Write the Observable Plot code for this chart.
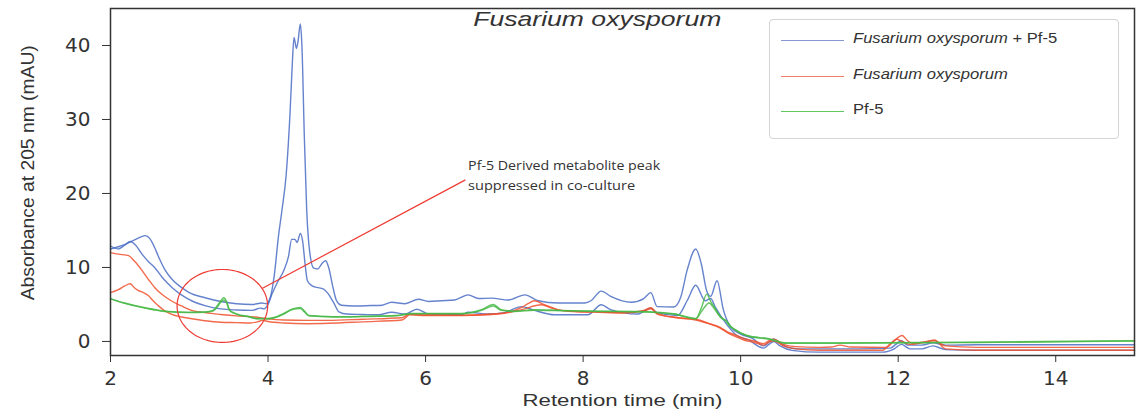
<!DOCTYPE html>
<html><head><meta charset="utf-8">
<script src="https://cdn.jsdelivr.net/npm/d3@7"></script>
<script src="https://cdn.jsdelivr.net/npm/@observablehq/plot@0.6"></script>
<style>
body{margin:0;background:#fff;}
#wrap{position:relative;width:1139px;height:417px;}
.legend{position:absolute;left:769px;top:19px;width:348px;height:118px;border:1px solid #d4d4d4;border-radius:4px;background:#fff;font-family:"Liberation Sans",Arial,sans-serif;color:#333;}
.legend .sw{position:absolute;left:11px;width:63px;height:0;border-top:1.5px solid;}
.legend .lb{position:absolute;left:83px;font-size:15.5px;line-height:1;transform:scaleX(1.07);transform-origin:left center;white-space:nowrap;}
</style></head><body><div id="wrap"></div>
<script>
// ---- series names, colours ----
const seriesNames = ["Fusarium oxysporum + Pf-5", "Fusarium oxysporum", "Pf-5"];
const seriesColors = ["#4a6cc4", "#f0502d", "#45b845"];
const legendColors = ["#8499d4", "#f07d68", "#62c862"];

// ---- traces: [retention time (min), absorbance (mAU)] ----
const coculture_rep1 = [[2.0,12.5],[2.1,12.8],[2.2,13.2],[2.3,13.7],[2.38,14.1],[2.44,14.3],[2.5,13.9],[2.56,12.7],[2.62,11.2],[2.69,9.7],[2.78,8.4],[2.9,7.3],[3.0,6.6],[3.2,5.9],[3.4,5.4],[3.6,5.1],[3.8,5.0],[3.92,5.2],[3.98,5.1],[4.03,6.0],[4.08,9.0],[4.13,14.0],[4.18,18.0],[4.23,22.5],[4.28,31],[4.31,38],[4.33,41.1],[4.36,39.6],[4.38,40.5],[4.41,42.9],[4.43,40],[4.46,28],[4.49,18],[4.53,12],[4.58,9.9],[4.63,9.8],[4.69,10.6],[4.73,10.9],[4.77,10.0],[4.82,7.5],[4.87,5.5],[4.93,4.9],[5.1,4.8],[5.3,4.85],[5.45,4.9],[5.57,5.3],[5.74,5.1],[5.91,5.7],[6.04,5.4],[6.2,5.5],[6.37,5.6],[6.54,6.3],[6.67,5.8],[6.84,5.85],[7.05,5.6],[7.26,6.3],[7.43,5.5],[7.68,5.2],[8.02,5.2],[8.1,5.5],[8.23,6.8],[8.35,6.1],[8.61,5.3],[8.77,5.8],[8.86,6.6],[8.94,4.7],[9.15,4.65],[9.24,6.0],[9.32,9.6],[9.43,12.5],[9.5,10.5],[9.57,6.8],[9.62,6.1],[9.7,8.2],[9.78,4.3],[9.87,2.0],[10.0,1.0],[10.15,0.4],[10.29,-0.6],[10.36,-0.1],[10.42,0.35],[10.5,-0.2],[10.6,-0.8],[10.75,-1.0],[11.0,-1.0],[11.5,-1.0],[11.9,-0.9],[11.97,-0.4],[12.04,0.1],[12.12,-0.5],[12.3,-0.5],[12.44,-0.2],[12.6,-0.5],[13.0,-0.45],[15.0,-0.45]];
const coculture_rep2 = [[2.0,12.9],[2.1,12.5],[2.18,13.0],[2.25,13.5],[2.32,13.0],[2.4,11.8],[2.48,10.8],[2.56,10.0],[2.66,8.6],[2.78,7.3],[2.9,6.3],[3.05,5.4],[3.2,4.85],[3.4,4.4],[3.6,4.25],[3.8,4.2],[3.9,4.5],[3.95,4.4],[4.0,5.0],[4.05,6.4],[4.12,8.0],[4.2,9.6],[4.26,11.5],[4.3,13.8],[4.34,13.8],[4.37,13.4],[4.41,14.6],[4.44,13.5],[4.47,10.5],[4.5,8.2],[4.56,7.5],[4.62,7.3],[4.7,7.1],[4.76,6.5],[4.83,5.3],[4.9,4.0],[5.0,3.7],[5.2,3.65],[5.4,3.6],[5.57,3.95],[5.74,3.7],[5.89,4.35],[6.04,3.7],[6.46,3.6],[6.54,3.95],[6.8,3.7],[7.0,3.9],[7.22,4.7],[7.38,4.2],[7.64,3.6],[8.06,3.6],[8.23,4.95],[8.35,4.3],[8.69,3.7],[8.86,4.5],[8.94,3.9],[9.2,3.5],[9.32,5.5],[9.43,7.6],[9.55,5.5],[9.62,5.8],[9.68,4.6],[9.83,2.2],[9.95,0.8],[10.1,0.2],[10.29,-0.9],[10.36,-0.4],[10.42,0.0],[10.5,-0.6],[10.65,-1.2],[11.0,-1.45],[11.8,-1.45],[11.95,-1.0],[12.04,-0.4],[12.15,-1.0],[12.3,-1.0],[12.44,-0.6],[12.6,-1.1],[13.0,-1.2],[15.0,-1.2]];
const fusarium_rep1 = [[2.0,12.0],[2.1,11.8],[2.23,11.6],[2.3,10.9],[2.4,9.6],[2.48,8.4],[2.56,7.3],[2.66,6.3],[2.77,5.5],[2.9,4.8],[3.03,4.2],[3.2,3.9],[3.4,3.65],[3.6,3.45],[3.83,3.3],[4.0,3.05],[4.2,2.9],[4.5,2.85],[4.77,2.85],[5.2,3.0],[5.7,3.2],[5.8,3.7],[6.0,3.6],[6.46,3.55],[6.8,3.7],[7.0,3.85],[7.22,4.6],[7.3,5.1],[7.38,5.5],[7.5,5.0],[7.6,4.6],[7.72,4.2],[7.93,4.05],[8.14,4.0],[8.5,3.9],[8.77,4.2],[8.86,4.55],[8.94,3.8],[9.2,3.2],[9.43,2.9],[9.6,2.4],[9.74,1.9],[9.83,1.3],[9.95,0.8],[10.04,0.4],[10.16,0.1],[10.29,-0.3],[10.36,0.1],[10.42,0.3],[10.54,-0.4],[10.7,-0.7],[11.0,-0.8],[11.15,-0.75],[11.26,-0.5],[11.4,-0.75],[11.85,-0.8],[11.95,0.1],[12.05,0.8],[12.12,0.1],[12.2,-0.3],[12.3,-0.1],[12.46,0.1],[12.6,-0.6],[13.0,-0.8],[15.0,-0.8]];
const fusarium_rep2 = [[2.0,6.6],[2.1,7.0],[2.18,7.5],[2.25,7.8],[2.3,7.3],[2.35,6.9],[2.42,6.6],[2.48,6.2],[2.54,5.5],[2.6,4.9],[2.68,4.2],[2.77,3.7],[2.9,3.3],[3.03,3.07],[3.2,2.8],[3.4,2.6],[3.6,2.55],[3.78,2.5],[3.88,2.7],[3.93,2.85],[4.0,2.7],[4.2,2.5],[4.5,2.4],[4.77,2.45],[5.2,2.65],[5.7,2.9],[5.8,3.6],[6.0,3.5],[6.46,3.5],[6.8,3.6],[7.0,3.8],[7.22,4.3],[7.47,4.95],[7.6,4.5],[7.72,4.2],[7.93,4.0],[8.14,3.96],[8.5,3.85],[8.77,4.1],[8.86,4.4],[8.94,3.7],[9.2,3.2],[9.43,3.0],[9.6,2.4],[9.74,1.8],[9.83,1.2],[9.95,0.6],[10.04,0.2],[10.16,-0.1],[10.29,-0.5],[10.36,-0.1],[10.42,0.1],[10.54,-0.6],[10.7,-1.0],[11.0,-1.2],[11.8,-1.2],[11.9,-0.3],[11.98,0.3],[12.05,0.0],[12.15,-0.4],[12.3,-0.2],[12.46,0.2],[12.6,-1.0],[13.0,-1.2],[15.0,-1.2]];
const pf5_rep1 = [[2.0,5.8],[2.18,5.2],[2.44,4.55],[2.69,4.1],[2.98,3.95],[3.2,4.0],[3.3,4.2],[3.36,4.9],[3.4,5.5],[3.44,5.9],[3.47,5.5],[3.51,4.3],[3.56,3.9],[3.62,3.65],[3.74,3.4],[3.87,3.1],[4.0,3.1],[4.1,3.3],[4.2,3.8],[4.31,4.4],[4.41,4.6],[4.47,4.0],[4.52,3.5],[4.82,3.35],[5.2,3.4],[5.62,3.5],[5.83,3.8],[6.46,3.8],[6.71,4.3],[6.86,5.0],[6.96,4.3],[7.13,4.1],[7.38,4.3],[7.72,4.2],[8.2,4.1],[8.69,4.05],[9.15,3.75],[9.43,3.1],[9.5,4.5],[9.57,6.4],[9.62,5.4],[9.68,4.4],[9.75,3.2],[9.8,2.9],[9.86,2.1],[9.91,1.7],[10.08,0.8],[10.37,0.35],[10.58,-0.2],[11.2,-0.2],[13.0,-0.1],[15.0,0.1]];
const pf5_rep2 = [[2.0,5.75],[2.18,5.15],[2.44,4.5],[2.69,4.05],[2.98,3.9],[3.2,3.95],[3.3,4.1],[3.36,4.7],[3.4,5.3],[3.44,5.6],[3.47,5.3],[3.51,4.2],[3.56,3.85],[3.62,3.6],[3.74,3.35],[3.87,3.05],[4.0,3.05],[4.1,3.25],[4.2,3.7],[4.31,4.3],[4.41,4.45],[4.47,3.9],[4.52,3.45],[4.82,3.3],[5.2,3.35],[5.62,3.45],[5.83,3.75],[6.46,3.75],[6.71,4.2],[6.86,4.8],[6.96,4.2],[7.13,4.05],[7.38,4.2],[7.72,4.15],[8.2,4.05],[8.69,4.0],[9.15,3.7],[9.43,3.05],[9.5,4.0],[9.6,5.2],[9.66,4.5],[9.72,3.6],[9.78,3.0],[9.82,2.8],[9.88,2.0],[9.93,1.6],[10.1,0.7],[10.37,0.3],[10.58,-0.25],[11.2,-0.25],[13.0,-0.15],[15.0,0.05]];

// ---- axes ----
const xTicks = [2, 4, 6, 8, 10, 12, 14];
const yTicks = [0, 10, 20, 30, 40];
const titleText = "Fusarium oxysporum";
const xLabel = "Retention time (min)";
const yLabel = "Absorbance at 205 nm (mAU)";

// ---- annotation ----
const annotationLines = ["Pf-5 Derived metabolite peak", "suppressed in co-culture"];
const annotationAt = {t: 6.54, v: 22.4};
const circleAt = {t: 3.42, v: 4.8, rt: 0.575, rv: 4.93};
const pointer = [{t: 3.93, v: 7.2}, {t: 6.5, v: 21.8}];

// ---- build table ----
const traces = [
  {series: 0, rep: "a", pts: coculture_rep1},
  {series: 0, rep: "b", pts: coculture_rep2},
  {series: 1, rep: "c", pts: fusarium_rep1},
  {series: 1, rep: "d", pts: fusarium_rep2},
  {series: 2, rep: "e", pts: pf5_rep1},
  {series: 2, rep: "f", pts: pf5_rep2}
];
const rows = traces.flatMap(tr => tr.pts.map(([t, v]) => ({t, v, series: seriesNames[tr.series], rep: tr.rep})));
const ellipsePts = d3.range(0, 361, 4).map(a => ({
  t: circleAt.t + circleAt.rt * Math.cos(a * Math.PI / 180),
  v: circleAt.v + circleAt.rv * Math.sin(a * Math.PI / 180)
}));

const annRed = "#ee3b33";
const chart = Plot.plot({
  width: 1139, height: 417,
  marginLeft: 110, marginRight: 5, marginTop: 8, marginBottom: 62,
  style: {fontFamily: "DejaVu Sans", fontSize: "20px", color: "#333", background: "#fff"},
  x: {domain: [2, 15]},
  y: {domain: [-1.9, 45]},
  color: {domain: seriesNames, range: seriesColors},
  marks: [
    Plot.line(rows, {x: "t", y: "v", z: "rep", stroke: "series", strokeWidth: 1.4, strokeOpacity: 0.85, curve: "monotone-x"}),
    Plot.line(ellipsePts, {x: "t", y: "v", stroke: annRed, strokeWidth: 1.2}),
    Plot.line(pointer, {x: "t", y: "v", stroke: annRed, strokeWidth: 1.2}),
    Plot.text([annotationLines[0]], {x: () => annotationAt.t, y: () => annotationAt.v, text: d => d, textAnchor: "start", dy: -10, fontSize: 13, fontFamily: "Open Sans", fill: "#333"}),
    Plot.text([annotationLines[1]], {x: () => annotationAt.t, y: () => annotationAt.v, text: d => d, textAnchor: "start", dy: 10, fontSize: 13, fontFamily: "Open Sans", fill: "#333"}),
    Plot.text([titleText], {x: () => 8.18, y: () => 43.6, text: d => d, fontSize: 21, fontStyle: "italic", fontFamily: "Liberation Sans", fill: "#333"}),
    Plot.text([xLabel], {frameAnchor: "bottom", textAnchor: "middle", text: d => d, dy: 50, fontSize: 16, fontFamily: "Liberation Sans", fill: "#333"}),
    Plot.text([yLabel], {frameAnchor: "left", textAnchor: "middle", y: () => 22.8, text: d => d, dx: -82, rotate: -90, fontSize: 17.5, fontFamily: "Liberation Sans", fill: "#333"}),
    Plot.axisX({ticks: xTicks, tickSize: 7, tickPadding: 8, label: null, fontSize: 20}),
    Plot.axisY({ticks: yTicks, tickSize: 8, tickPadding: 12, label: null, fontSize: 20}),
    Plot.frame({stroke: "#333", strokeWidth: 1.5})
  ]
});

const fit = {
  [titleText]: 248, [xLabel]: 200, [yLabel]: 255,
  [annotationLines[0]]: 192, [annotationLines[1]]: 167
};
d3.select(chart).selectAll("text").each(function() {
  const L = fit[this.textContent];
  if (L) d3.select(this).attr("textLength", L).attr("lengthAdjust", "spacingAndGlyphs");
});

const wrap = document.getElementById("wrap");
wrap.appendChild(chart);

// legend (inside plot area, top right)
const legend = document.createElement("div");
legend.className = "legend";
const rowsY = [20, 56, 91];
const labelHtml = [
  "<i>Fusarium oxysporum</i> + Pf-5",
  "<i>Fusarium oxysporum</i>",
  "Pf-5"
];
seriesNames.forEach((name, i) => {
  const sw = document.createElement("div");
  sw.className = "sw";
  sw.style.top = rowsY[i] + "px";
  sw.style.borderTopColor = legendColors[i];
  legend.appendChild(sw);
  const lb = document.createElement("div");
  lb.className = "lb";
  lb.style.top = (rowsY[i] - 10) + "px";
  lb.innerHTML = labelHtml[i];
  legend.appendChild(lb);
});
wrap.appendChild(legend);
</script></body></html>
